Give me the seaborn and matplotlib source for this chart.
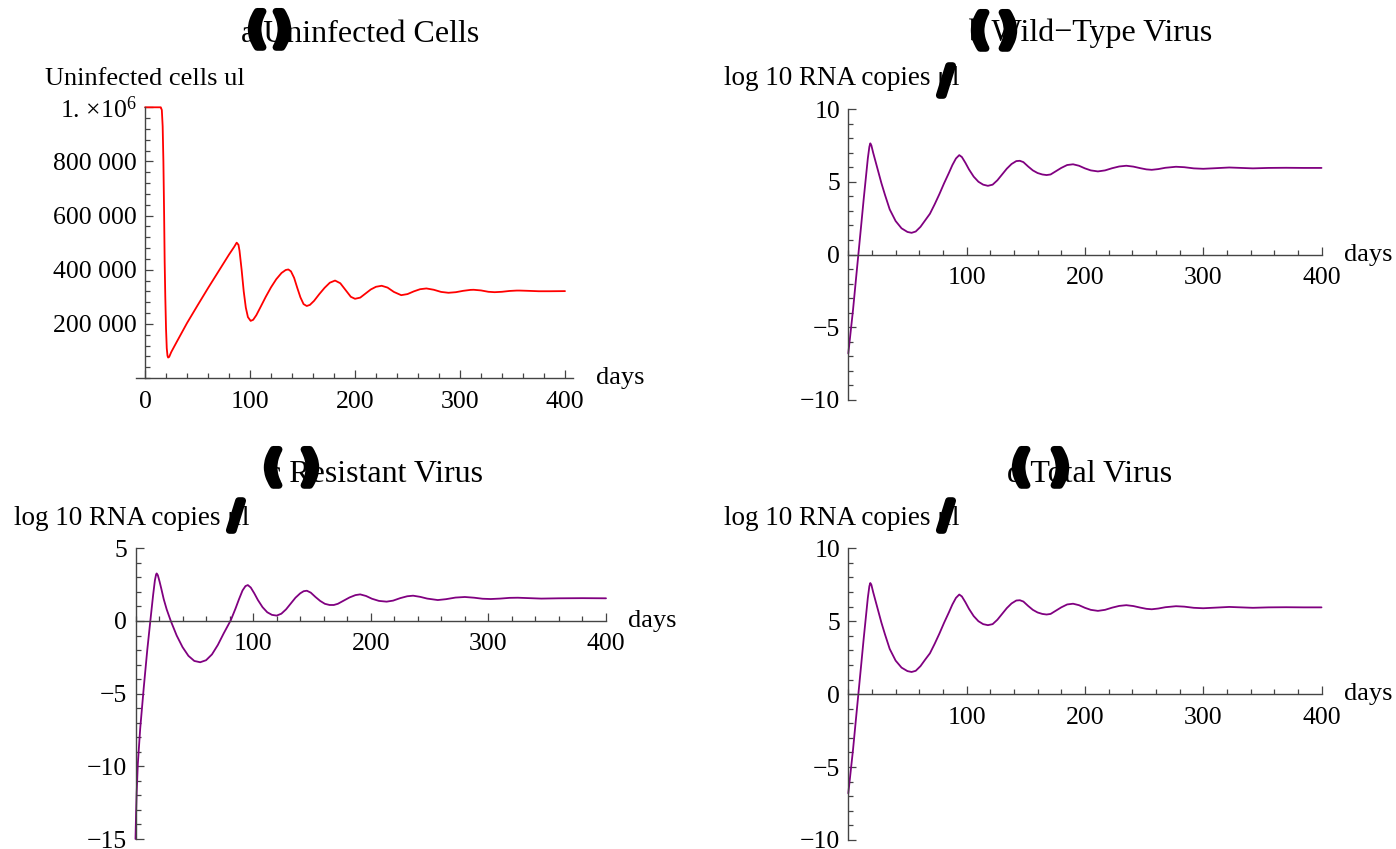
import numpy as np
import pandas as pd
import matplotlib
matplotlib.use("Agg")
import matplotlib.pyplot as plt
import matplotlib.patheffects as pe
from matplotlib.ticker import MultipleLocator
import seaborn as sns

# values
days_a = [0, 14, 15, 16, 16.8, 17.5, 18.2, 18.7, 19.3, 20, 20.7, 21.4, 22, 23, 25, 30, 40, 50,
          60, 70, 80, 85, 87.3, 89, 90, 92, 94, 96, 98, 100.6, 103, 106, 110, 115, 120, 125,
          130, 134, 136.5, 139, 142, 145, 148, 151, 154, 157, 161, 166, 171, 176, 181, 186,
          191, 196, 200, 205, 210, 215, 220, 225.4, 231, 237, 244, 250, 256, 262, 268, 275,
          282, 289, 296, 303, 310, 313, 320, 327, 333, 340, 347, 354, 357, 365, 375, 385, 400]
cells = [1e6, 1e6, 1e6, 990000, 930000, 800000, 600000, 430000, 300000, 183000, 110000, 82000,
         75500, 78000, 96000, 132000, 203000, 268000, 332000, 394000, 456000, 485000, 500000,
         492000, 470000, 400000, 320000, 260000, 225000, 211000, 215000, 232000, 262000,
         300000, 335000, 365000, 388000, 399000, 401000, 394000, 370000, 333000, 298000,
         273000, 266000, 270000, 285000, 310000, 333000, 352000, 360000, 350000, 325000,
         300000, 292600, 297000, 312000, 327000, 337000, 340700, 334000, 318000, 306000,
         310000, 320000, 328000, 330800, 326000, 318000, 314800, 317000, 322000, 325500,
         325900, 323500, 318500, 317000, 318500, 321500, 323000, 323000, 322000, 320500,
         320500, 321000]

days_v = [0, 2, 4, 6, 8.5, 11, 13, 15, 16.5, 17.8, 18.6, 19.5, 21, 23, 25, 28, 31, 35, 40, 45,
          50, 53.5, 57, 61, 65, 69, 73, 77, 81, 85, 88, 91, 93.8, 96, 99, 102, 106, 110, 114,
          118, 122, 126, 130, 134, 138, 142, 145, 148, 152, 156, 160, 164, 167.6, 171, 175,
          180, 185, 190, 195, 200, 205, 211, 217, 223, 229, 235, 241, 247, 252, 256.5, 262,
          268, 277, 284, 292, 300, 310, 322, 332, 342, 355, 370, 385, 400]
wild_type = [-6.8, -5.3, -3.8, -2.1, 0, 2.1, 3.8, 5.4, 6.6, 7.4, 7.64, 7.5, 7.0, 6.4, 5.8, 4.9,
             4.1, 3.1, 2.3, 1.8, 1.55, 1.49, 1.58, 1.9, 2.35, 2.8, 3.45, 4.15, 4.9, 5.6, 6.15,
             6.6, 6.83, 6.7, 6.3, 5.85, 5.35, 5.0, 4.8, 4.72, 4.8, 5.1, 5.5, 5.9, 6.22, 6.42,
             6.44, 6.35, 6.05, 5.78, 5.6, 5.5, 5.46, 5.5, 5.7, 5.95, 6.15, 6.2, 6.1, 5.92, 5.78,
             5.71, 5.78, 5.93, 6.05, 6.1, 6.04, 5.93, 5.85, 5.82, 5.87, 5.96, 6.03, 6.0, 5.92,
             5.89, 5.93, 5.98, 5.95, 5.92, 5.95, 5.96, 5.95, 5.95]
total = [-6.8, -5.3, -3.8, -2.1, 0, 2.1, 3.8, 5.4, 6.6, 7.4, 7.62, 7.5, 7.0, 6.4, 5.8, 4.9,
         4.1, 3.1, 2.3, 1.82, 1.58, 1.52, 1.6, 1.92, 2.37, 2.8, 3.45, 4.15, 4.9, 5.6, 6.15,
         6.6, 6.83, 6.7, 6.3, 5.85, 5.35, 5.0, 4.8, 4.73, 4.8, 5.1, 5.5, 5.9, 6.22, 6.42,
         6.44, 6.35, 6.05, 5.78, 5.6, 5.5, 5.46, 5.5, 5.7, 5.95, 6.15, 6.2, 6.1, 5.92, 5.78,
         5.71, 5.78, 5.93, 6.05, 6.1, 6.04, 5.93, 5.85, 5.82, 5.87, 5.96, 6.03, 6.0, 5.92,
         5.89, 5.93, 5.98, 5.95, 5.92, 5.95, 5.96, 5.95, 5.95]

days_r = [0, 0.5, 1, 2, 4, 7, 10, 13, 15, 16.5, 17.5, 18, 19, 20.5, 22, 24, 26.5, 30, 35, 40,
          45, 50, 55, 60, 65, 70, 75, 81, 85, 88, 91, 93.5, 95.5, 98, 101, 104, 108, 112, 116,
          120, 124, 128, 132, 136, 140, 143, 145.7, 149, 153, 157, 161, 165, 168.6, 172, 177,
          182, 187, 191, 196, 201, 207, 213.5, 219, 225, 231, 236, 242, 248, 257, 264, 272,
          280, 288, 295, 302, 310, 318, 325, 335, 345, 360, 380, 400]
resistant = [-15, -13.2, -11.8, -9.8, -7.4, -4.6, -2.0, 0.3, 1.8, 2.8, 3.2, 3.27, 3.15, 2.7,
             2.2, 1.5, 0.8, 0, -1.0, -1.8, -2.4, -2.75, -2.84, -2.7, -2.3, -1.65, -0.85, 0.05,
             0.85, 1.5, 2.1, 2.4, 2.47, 2.3, 1.9, 1.45, 0.95, 0.6, 0.42, 0.37, 0.5, 0.8, 1.2,
             1.6, 1.9, 2.05, 2.08, 1.95, 1.65, 1.38, 1.18, 1.1, 1.1, 1.18, 1.4, 1.62, 1.78,
             1.83, 1.72, 1.53, 1.38, 1.33, 1.4, 1.57, 1.7, 1.74, 1.66, 1.54, 1.44, 1.5, 1.61,
             1.65, 1.6, 1.53, 1.51, 1.54, 1.59, 1.6, 1.57, 1.54, 1.56, 1.57, 1.56]

sns.set_theme(style="white")
plt.rcParams["font.family"] = ["Liberation Serif", "DejaVu Serif"]
plt.rcParams["mathtext.fontset"] = "custom"
plt.rcParams["mathtext.rm"] = "Liberation Serif"
plt.rcParams["mathtext.it"] = "Liberation Serif:italic"
plt.rcParams["text.color"] = "black"

W, H = 1396, 849
fig = plt.figure(figsize=(W / 100, H / 100), dpi=100)
fig.patch.set_facecolor("white")


def box(l, r, t, b):
    return [l / W, 1 - b / H, (r - l) / W, (b - t) / H]


def px(x, y):
    return x / W, 1 - y / H


ax_a = fig.add_axes(box(136.1, 573.4, 107.3, 378))
ax_b = fig.add_axes(box(848.3, 1321.5, 109, 400))
ax_c = fig.add_axes(box(135.5, 606, 548.3, 839))
ax_d = fig.add_axes(box(848.3, 1321.5, 548.3, 840))

purple = "#800080"
sns.lineplot(x=days_a, y=cells, ax=ax_a, color="#ff0000", lw=1.3)
sns.lineplot(x=days_v, y=wild_type, ax=ax_b, color=purple, lw=1.3)
sns.lineplot(x=days_r, y=resistant, ax=ax_c, color=purple, lw=1.3)
sns.lineplot(x=days_v, y=total, ax=ax_d, color=purple, lw=1.3)


def style(ax, xlim, ylim, xticks, yticks, ylabels, yminor):
    ax.set_xlim(*xlim)
    ax.set_ylim(*ylim)
    for ln in ax.lines:
        ln.set_clip_on(False)
    for s in ["top", "right"]:
        ax.spines[s].set_visible(False)
    ax.spines["left"].set_position(("data", 0))
    ax.spines["bottom"].set_position(("data", 0))
    for s in ["left", "bottom"]:
        ax.spines[s].set_color("#444444")
        ax.spines[s].set_linewidth(1.0)
    ax.set_xticks(xticks)
    ax.set_xticklabels([str(t) for t in xticks])
    ax.set_yticks(yticks)
    ax.set_yticklabels(ylabels)
    ax.xaxis.set_minor_locator(MultipleLocator(20))
    ax.yaxis.set_minor_locator(MultipleLocator(yminor))
    ax.tick_params(which="both", direction="in", color="#444444", width=0.9,
                   bottom=True, left=True, labelsize=18.5, labelcolor="black")
    ax.tick_params(which="major", length=6)
    ax.tick_params(which="minor", length=3.5)
    ax.tick_params(axis="x", pad=9)
    ax.tick_params(axis="y", pad=6)
    ax.set_xlabel("")
    ax.set_ylabel("")
    ax.patch.set_alpha(0)
    ax.annotate("days", xy=(1, 0), xycoords=ax.get_yaxis_transform(),
                xytext=(16, 0), textcoords="offset points",
                ha="left", va="center", fontsize=19)


style(ax_a, (-8.5, 408), (0, 1e6), [0, 100, 200, 300, 400],
      [200000, 400000, 600000, 800000, 1000000],
      ["200 000", "400 000", "600 000", "800 000", r"1. $\times$10$^{6}$"], 40000)
style(ax_b, (0, 400), (-10, 10), [100, 200, 300, 400], [-10, -5, 0, 5, 10],
      ["\u221210", "\u22125", "0", "5", "10"], 1)
style(ax_c, (0, 400), (-15, 5), [100, 200, 300, 400], [-15, -10, -5, 0, 5],
      ["\u221215", "\u221210", "\u22125", "0", "5"], 1)
style(ax_d, (0, 400), (-10, 10), [100, 200, 300, 400], [-10, -5, 0, 5, 10],
      ["\u221210", "\u22125", "0", "5", "10"], 1)

# panel titles, with the oversized bold brackets of the original rendering
titles = [("a Uninfected Cells", 360, 42), ("b Wild\u2212Type Virus", 1090, 41),
          ("c Resistant Virus", 375, 482), ("d Total Virus", 1090, 482)]
for txt, cx, by in titles:
    fig.text(*px(cx, by), txt, ha="center", va="baseline", fontsize=23)

brackets = [(257, 282, 31), (980, 1008, 32), (273, 310, 469), (1021, 1060, 469)]
stroke = [pe.withStroke(linewidth=5, foreground="black")]
for xl, xr, cy in brackets:
    fig.text(*px(xl, cy), "(", ha="center", va="center", fontsize=29,
             family="DejaVu Sans", weight="bold", path_effects=stroke)
    fig.text(*px(xr, cy), ")", ha="center", va="center", fontsize=29,
             family="DejaVu Sans", weight="bold", path_effects=stroke)

# axis labels
fig.text(*px(45, 85), "Uninfected cells ul", ha="left", va="baseline", fontsize=19)
for lx, by in [(724, 85), (14, 525), (724, 525)]:
    fig.text(*px(lx, by), "log 10 RNA copies \u03bcl", ha="left", va="baseline", fontsize=19.5)
for sx, sy in [(946, 82), (236, 517), (946, 517)]:
    fig.text(*px(sx, sy), "/", ha="center", va="center", fontsize=26,
             family="DejaVu Sans", weight="bold", path_effects=stroke)

fig.savefig("out.png", dpi=100, facecolor="white")
